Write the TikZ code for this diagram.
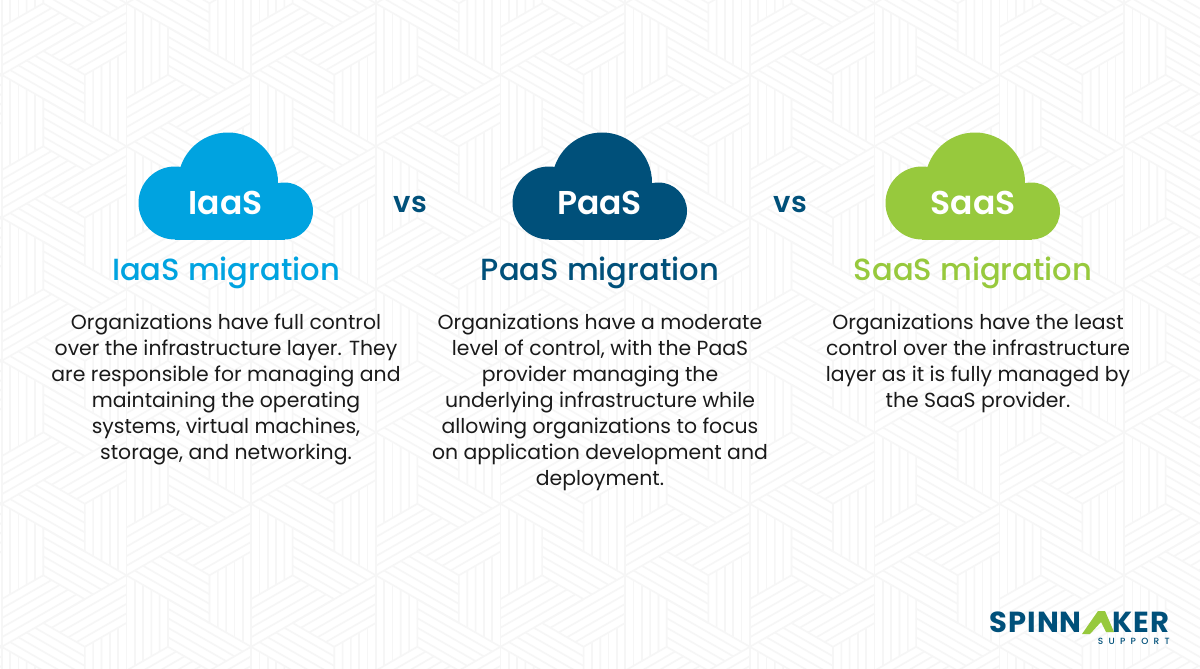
\documentclass[tikz,border=0pt]{standalone}
\usepackage{fontspec}
\setmainfont{Poppins}
\newfontfamily\medfont{Poppins Medium}
\newfontfamily\semifont{Poppins SemiBold}
\definecolor{iaascol}{HTML}{00A3E0}
\definecolor{paascol}{HTML}{00507A}
\definecolor{saascol}{HTML}{97C93D}
\definecolor{bodycol}{HTML}{1A1A1A}
\definecolor{bgline}{HTML}{F6F6F6}
\newcommand{\trap}[6]{%
  \foreach \t in {0,0.2,0.4,0.6,0.8,1}{
    \draw[bgline,line width=1.6pt]
      ({#1+\t/3*(#5-#1)},{#2+\t/3*(#6-#2)}) --
      ({#1+2/3*(#3-#1)+\t*((#1+#3+#5)/3-(#1+2/3*(#3-#1)))},{#2+2/3*(#4-#2)+\t*((#2+#4+#6)/3-(#2+2/3*(#4-#2)))});
  }}
\newcommand{\tri}[6]{\trap{#1}{#2}{#3}{#4}{#5}{#6}\trap{#3}{#4}{#5}{#6}{#1}{#2}\trap{#5}{#6}{#1}{#2}{#3}{#4}}
\tikzset{
  cloud/.pic={
    \fill (37,69.5) circle (36.5);
    \fill (90,49) circle (50);
    \fill (146.5,77.5) circle (28.5);
    \fill (37,60) rectangle (146.5,106);
  },
  cloudlabel/.style={white,font=\semifont\fontsize{33}{33}\selectfont,anchor=base},
  title/.style={font=\medfont\fontsize{30.6}{30.6}\selectfont,anchor=base},
  versus/.style={paascol,font=\semifont\fontsize{29}{29}\selectfont,anchor=base},
  bodytext/.style={bodycol,align=center,font=\fontsize{20.4}{26}\selectfont,anchor=north},
  logotext/.style={paascol,inner sep=0pt,font=\fontsize{29}{29}\selectfont\bfseries},
}
\begin{document}
\begin{tikzpicture}[x=1pt,y=-1pt]
\useasboundingbox (0,0) rectangle (1200,669);
\fill[white] (0,0) rectangle (1200,669);
\def\H{124.7}\def\L{143}
\foreach \c in {-1,...,10}{
  \foreach \k in {-1,...,5}{
    \pgfmathsetmacro\X{1.7+\c*\H}
    \pgfmathsetmacro\Y{3.3+\k*\L+mod(\c+3,2)*\L/2-\L}
    \pgfmathsetmacro\Xr{\X+\H}
    \pgfmathsetmacro\Xl{\X-\H}
    \pgfmathsetmacro\Yb{\Y+\L}
    \pgfmathsetmacro\Ym{\Y+\L/2}
    \tri{\X}{\Y}{\X}{\Yb}{\Xr}{\Ym}
    \tri{\X}{\Yb}{\X}{\Y}{\Xl}{\Ym}
  }
}
\pic[iaascol] at (138,133.5) {cloud};
\pic[paascol] at (512,133.5) {cloud};
\pic[saascol] at (885,133.5) {cloud};
\node[cloudlabel] (c1) at (225.5,214) {IaaS};
\node[cloudlabel] (c2) at (599.5,214) {PaaS};
\node[cloudlabel] (c3) at (973,214) {SaaS};
\node[versus] (v1) at (410.5,212) {vs};
\node[versus] (v2) at (790.5,212) {vs};
\node[title,iaascol] (t1) at (226,280) {IaaS migration};
\node[title,paascol] (t2) at (600,280) {PaaS migration};
\node[title,saascol] (t3) at (973,280) {SaaS migration};
\node[bodytext] (b1) at (226,310) {Organizations have full control\\over the infrastructure layer. They\\are responsible for managing and\\maintaining the operating\\systems, virtual machines,\\storage, and networking.};
\node[bodytext] (b2) at (600,310) {Organizations have a moderate\\level of control, with the PaaS\\provider managing the\\underlying infrastructure while\\allowing organizations to focus\\on application development and\\deployment.};
\node[bodytext] (b3) at (978,310) {Organizations have the least\\control over the infrastructure\\layer as it is fully managed by\\the SaaS provider.};
\node[logotext,anchor=base east] (logo1) at (1082,632) {S\kern1pt P\kern1pt I\kern1pt N\kern1pt N};
\node[logotext,anchor=base west] (logo2) at (1112,632) {K\kern1pt E\kern1pt R};
\node[paascol,inner sep=0pt,font=\medfont\fontsize{9}{9}\selectfont,anchor=base east] (sup) at (1170,644) {S\kern5.3pt U\kern5.3pt P\kern5.3pt P\kern5.3pt O\kern5.3pt R\kern5.3pt T};
\fill[saascol] (1082,634) -- (1098,611) -- (1105,611) -- (1114,632) -- (1106,632) -- (1101,622) -- (1090,634) -- cycle;
\end{tikzpicture}
\end{document}
